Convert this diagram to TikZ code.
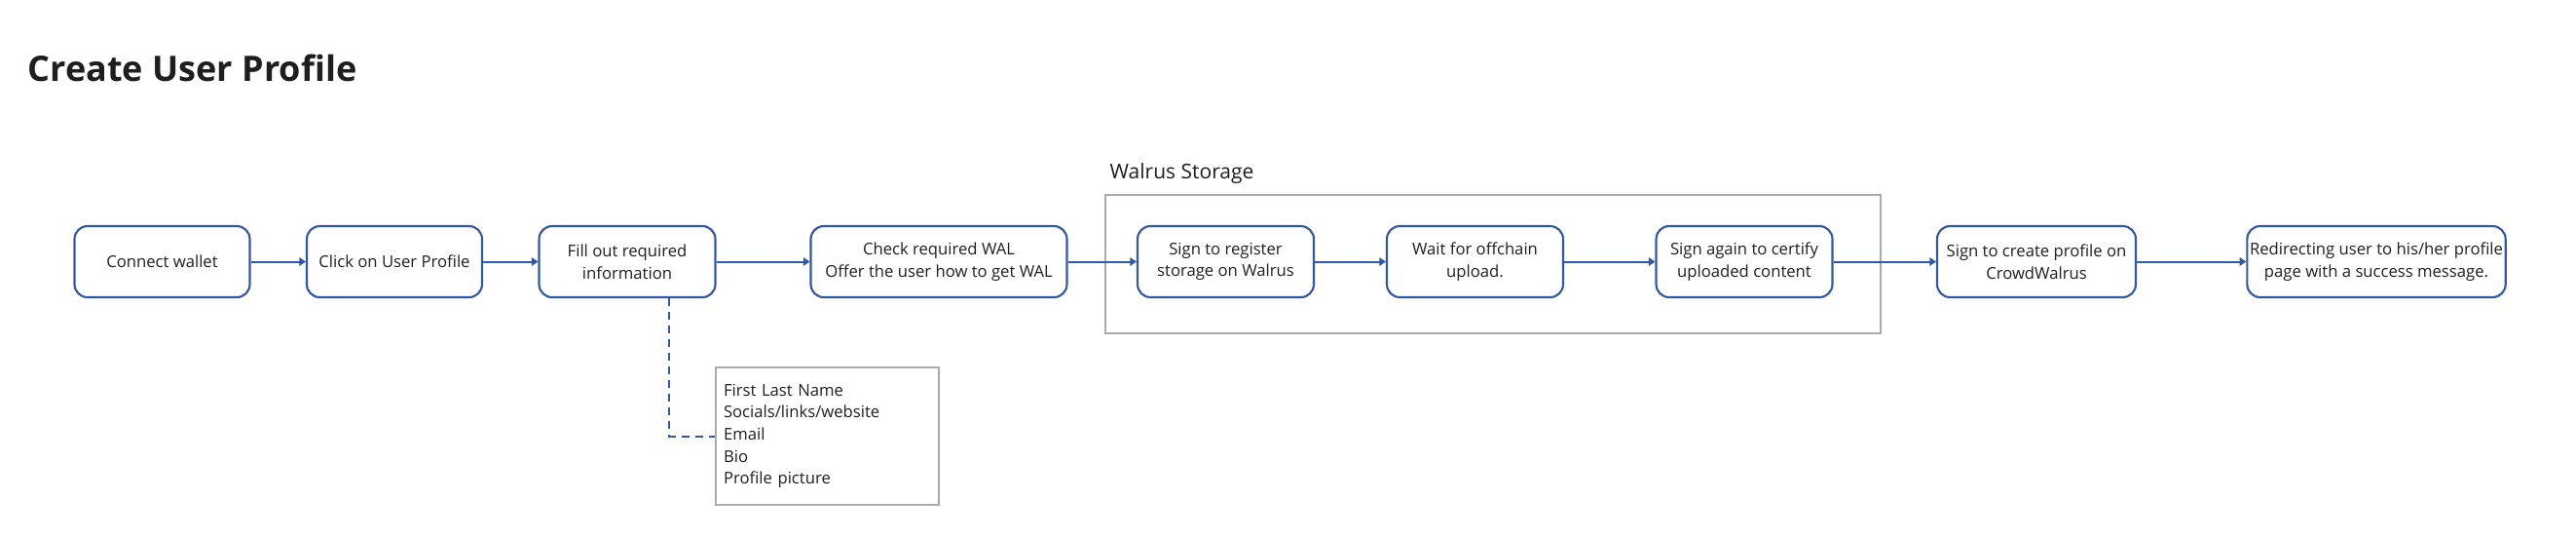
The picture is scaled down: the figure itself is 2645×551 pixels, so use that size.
\documentclass[tikz,border=0pt]{standalone}
\usepackage{fontspec}
\setmainfont{Open Sans}
\usetikzlibrary{arrows.meta}
\usetikzlibrary{positioning}
\definecolor{flowblue}{HTML}{2F58A9}
\definecolor{framegray}{HTML}{ABABAB}
\definecolor{inkgray}{HTML}{1E1E1E}
\tikzset{stepbox/.style = {draw=flowblue, line width=1.6pt, rounded corners=10pt,
                           minimum height=54.75pt, minimum width=#1, align=center,
                           text=inkgray, inner sep=2pt,
                           font=\fontsize{12.5}{17}\selectfont},
         stepbox/.default=135.75pt}
\tikzset{flow/.style = {draw=flowblue, line width=1.5pt,
                        -{Triangle[length=5pt, width=6.5pt]}}}
\tikzset{hint/.style = {draw=flowblue, line width=1.5pt, dash pattern=on 6pt off 4.5pt}}
\tikzset{frame/.style = {draw=framegray, line width=1.3pt}}

\begin{document}
\begin{tikzpicture}[x=0.75pt, y=-0.75pt]
  \useasboundingbox (0,0) rectangle (2645,551);
  \node [anchor=base west, text=inkgray, font=\fontsize{27}{32}\selectfont\bfseries] (title)
        at (24,83) {Create User Profile};

  % grey frame round the storage steps
  \node [frame, minimum width=597pt, minimum height=106.5pt] (storage) at (1533,271) {};
  \node [anchor=base west, text=inkgray, font=\fontsize{15.75}{19}\selectfont] (storagelabel)
        at (1135,183) {Walrus Storage};

  \node [stepbox=135pt] (wallet)   at (166.5,268.5) {Connect wallet};
  \node [stepbox=135pt] (click)    at (405,268.5)   {Click on User Profile};
  \node [stepbox]       (fill)     at (644,268.5)   {Fill out required\\information};
  \node [stepbox=197.25pt] (wal)   at (964,268.5)   {Check required WAL\\Offer the user how to get WAL};
  \node [stepbox]       (register) at (1258.5,268.5) {Sign to register\\storage on Walrus};
  \node [stepbox]       (upload)   at (1514.5,268.5) {Wait for offchain\\upload.};
  \node [stepbox]       (certify)  at (1791,268.5)  {Sign again to certify\\uploaded content};
  \node [stepbox=153pt] (create)   at (2091,268.5)  {Sign to create profile on\\CrowdWalrus};
  \node [stepbox=198pt] (redirect) at (2440,268.5)  {Redirecting user to his/her profile\\page with a success message.};

  \foreach \a/\b in {wallet/click, click/fill, fill/wal, wal/register, register/upload,
                     upload/certify, certify/create, create/redirect}
    \draw [flow] (\a) -- (\b);

  % the fields that the form asks for
  \node [frame, minimum height=105.75pt, text width=159.75pt, inner xsep=6pt,
         align=left, text=inkgray, font=\fontsize{12.5}{17}\selectfont] (fields)
        at (849.5,447.5) {First Last Name\\Socials/links/website\\Email\\Bio\\Profile picture};
  \coordinate (tap) at ([xshift=32.6pt]fill.south);
  \draw [hint] (tap) |- (fields.west);
\end{tikzpicture}
\end{document}
